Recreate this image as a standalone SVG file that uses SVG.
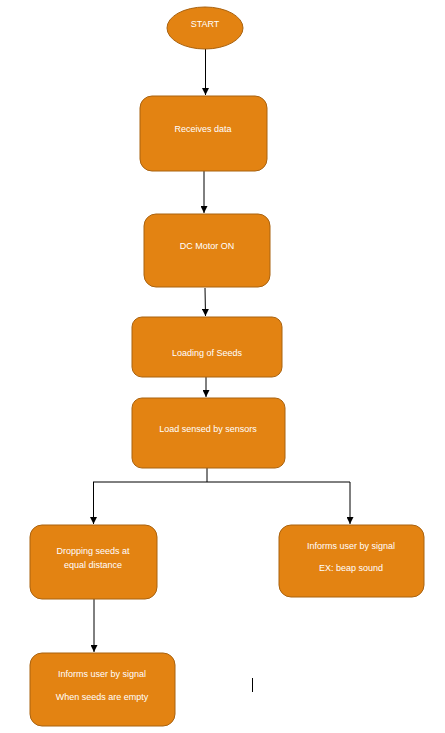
<svg xmlns="http://www.w3.org/2000/svg" width="445" height="733" viewBox="0 0 445 733">
  <style>
    .node { fill: #E38312; stroke: #A9620F; stroke-width: 1; }
    .label { fill: #FFFFFF; font-family: "Liberation Sans", Arial, sans-serif; font-size: 9px; text-anchor: middle; }
    .edge { stroke: #000000; stroke-width: 1; fill: none; }
  </style>
  <defs>
    <marker id="arrow" viewBox="0 0 8 8" refX="8" refY="4" markerWidth="7" markerHeight="7" markerUnits="userSpaceOnUse" orient="auto">
      <path d="M0,0 L8,4 L0,8 Z" fill="#000000"/>
    </marker>
  </defs>
  <rect width="445" height="733" fill="#FFFFFF"/>

  <g id="connectors">
    <line class="edge" x1="205.5" y1="49" x2="205.5" y2="95" marker-end="url(#arrow)"/>
    <line class="edge" x1="204" y1="171" x2="204" y2="213" marker-end="url(#arrow)"/>
    <line class="edge" x1="205" y1="288" x2="205.5" y2="316" marker-end="url(#arrow)"/>
    <line class="edge" x1="206" y1="377" x2="206" y2="397" marker-end="url(#arrow)"/>
    <polyline class="edge" points="207,468 207,482"/>
    <line class="edge" x1="93" y1="482" x2="350" y2="482"/>
    <line class="edge" x1="93.5" y1="482" x2="93.5" y2="524" marker-end="url(#arrow)"/>
    <line class="edge" x1="350" y1="482" x2="350" y2="524" marker-end="url(#arrow)"/>
    <line class="edge" x1="94" y1="599" x2="94" y2="652" marker-end="url(#arrow)"/>
  </g>

  <g id="start">
    <ellipse class="node" cx="205" cy="28" rx="38" ry="21"/>
    <text class="label" x="205" y="27">START</text>
  </g>

  <g id="receives-data">
    <rect class="node" x="140" y="96" width="127" height="75" rx="12"/>
    <text class="label" x="203" y="132">Receives data</text>
  </g>

  <g id="dc-motor-on">
    <rect class="node" x="144" y="214" width="126" height="73" rx="12"/>
    <text class="label" x="207" y="249">DC Motor ON</text>
  </g>

  <g id="loading-of-seeds">
    <rect class="node" x="132" y="317" width="150" height="60" rx="10"/>
    <text class="label" x="207" y="356">Loading of Seeds</text>
  </g>

  <g id="load-sensed">
    <rect class="node" x="132" y="398" width="153" height="70" rx="10"/>
    <text class="label" x="208" y="432">Load sensed by sensors</text>
  </g>

  <g id="dropping-seeds">
    <rect class="node" x="30" y="525" width="127" height="74" rx="12"/>
    <text class="label" x="93" y="554">Dropping seeds at</text>
    <text class="label" x="93" y="568">equal distance</text>
  </g>

  <g id="informs-beap">
    <rect class="node" x="279" y="525" width="145" height="72" rx="12"/>
    <text class="label" x="351" y="549">Informs user by signal</text>
    <text class="label" x="351" y="571">EX: beap sound</text>
  </g>

  <g id="informs-empty">
    <rect class="node" x="30" y="653" width="145" height="73" rx="12"/>
    <text class="label" x="102" y="677">Informs user by signal</text>
    <text class="label" x="102" y="700">When seeds are empty</text>
  </g>

  <line x1="252.5" y1="678" x2="252.5" y2="692" stroke="#000000" stroke-width="1"/>
</svg>
